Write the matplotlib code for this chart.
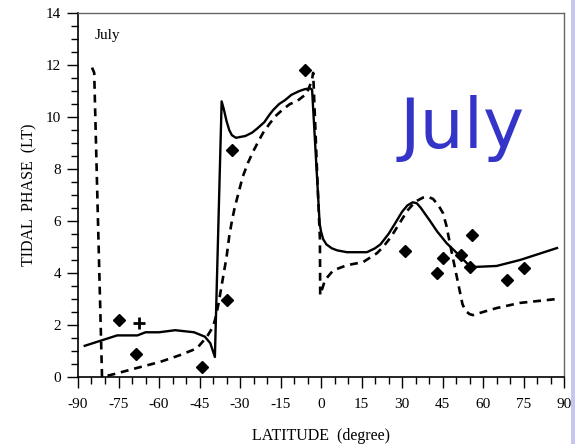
import numpy as np
import matplotlib.pyplot as plt
from matplotlib.patches import Rectangle
from matplotlib.ticker import MultipleLocator

# model phase, solid curve
lat_solid = [-87.5, -80, -75.5, -68, -65, -60, -54, -47, -43, -41, -39.3,
             -36.8, -36, -35, -34, -33, -31.5, -28, -25.5, -23.7, -21, -19,
             -17.7, -15.5, -13.3, -11, -8, -6, -4, -3.3, -0.5, 0, 0.8, 2, 4,
             6, 9.6, 17, 20, 22, 25, 27.4, 30, 32, 34, 35.5, 37, 40.4, 43,
             46.5, 50.4, 54, 56.3, 65, 73.7, 87.4]
phase_solid = [1.2, 1.45, 1.6, 1.6, 1.72, 1.72, 1.8, 1.72, 1.55, 1.3, 0.77,
               10.6, 10.3, 9.85, 9.5, 9.3, 9.2, 9.27, 9.4, 9.55, 9.8, 10.1,
               10.27, 10.5, 10.65, 10.85, 11.0, 11.07, 11.1, 11.05, 5.9, 5.6,
               5.3, 5.1, 4.95, 4.87, 4.8, 4.8, 4.95, 5.1, 5.5, 5.9, 6.35, 6.6,
               6.72, 6.68, 6.5, 6.0, 5.6, 5.15, 4.76, 4.38, 4.23, 4.27, 4.5,
               4.96]

# model phase, dashed curve
lat_dash = [-84.8, -84.0, -82.6, -81.1, -76.3, -67, -59.6, -52, -46, -42.3,
            -40, -39, -38, -37, -36, -35, -34, -33, -32, -31, -29, -27, -25,
            -23, -21.4, -19, -16.4, -14, -11.5, -9, -5.3, -3.4, -2.9, -1.5,
            -0.4, -0.3, 1.5, 4.5, 9.6, 15.6, 20.7, 23, 26, 29, 32, 35, 37.8,
            39.6, 41.5, 43.5, 45.2, 46.5, 48, 50.4, 52.4, 53.5, 55, 56.3, 60,
            65, 73.7, 87.4]
phase_dash = [11.9, 11.7, 6.0, 0.0, 0.12, 0.38, 0.58, 0.85, 1.1, 1.54,
              1.93, 2.3, 2.8, 3.4, 4.0, 4.6, 5.4, 6.0, 6.5, 6.9, 7.7, 8.25,
              8.7, 9.1, 9.4, 9.75, 10.08, 10.3, 10.5, 10.6, 10.9, 11.4, 11.7,
              8.0, 5.3, 3.15, 3.73, 4.1, 4.3, 4.42, 4.76, 5.0, 5.4, 5.9, 6.4,
              6.75, 6.9, 6.93, 6.85, 6.6, 6.3, 5.8, 5.0, 3.8, 2.8, 2.55, 2.42,
              2.38, 2.5, 2.65, 2.85, 3.0]

# observations
lat_obs = [-75, -68.5, -44, -35, -33, -6, 31, 43, 45, 52, 56, 55, 69, 75]
phase_obs = [2.2, 0.87, 0.4, 2.95, 8.72, 11.8, 4.83, 4.0, 4.58, 4.7, 5.45,
             4.25, 3.75, 4.2]
lat_plus = [-67.5]
phase_plus = [2.08]

plt.rcParams['font.family'] = 'Liberation Serif'
plt.rcParams['axes.unicode_minus'] = False

fig = plt.figure(figsize=(5.75, 4.44), dpi=100)
ax = fig.add_axes([78/575, 67/444, 486/575, 364/444])

ax.plot(lat_solid, phase_solid, color='black', lw=1.7)
ax.plot(lat_dash, phase_dash, color='black', lw=1.9, linestyle=(0, (3.0, 2.2)))
ax.plot(lat_obs, phase_obs, 'D', color='black', ms=6.5)
ax.plot(lat_plus, phase_plus, '+', color='black', ms=9, mew=2)

ax.set_xlim(-90, 90)
ax.set_ylim(0, 14)
ax.xaxis.set_major_locator(MultipleLocator(15))
ax.xaxis.set_minor_locator(MultipleLocator(5))
ax.yaxis.set_major_locator(MultipleLocator(2))
ax.yaxis.set_minor_locator(MultipleLocator(0.5))
ax.tick_params(which='major', direction='out', length=8, width=1, labelsize=11, pad=4)
ax.tick_params(which='minor', direction='out', length=5, width=1)
ax.tick_params(axis='x', which='major', pad=7)

for side in ['top', 'right']:
    ax.spines[side].set_color('#666666')
    ax.spines[side].set_linewidth(1.0)
for side in ['left', 'bottom']:
    ax.spines[side].set_linewidth(1.2)

ax.set_xlabel('LATITUDE  (degree)', fontsize=11.5, labelpad=12)
ax.set_ylabel('TIDAL  PHASE  (LT)', fontsize=11.5, labelpad=6)

ax.text(0.035, 0.955, 'July', transform=ax.transAxes, fontsize=11, va='top')
ax.text(462, 296, 'July', transform=None, fontsize=50, color='#3434c8',
        family='DejaVu Sans', ha='center', va='baseline')

# lavender strip on the right edge
fig.patches.append(Rectangle((571/575, 0), 4/575, 1, transform=fig.transFigure,
                             facecolor='#c6c6f6', edgecolor='none', zorder=10))

fig.savefig('out.png', dpi=100)
